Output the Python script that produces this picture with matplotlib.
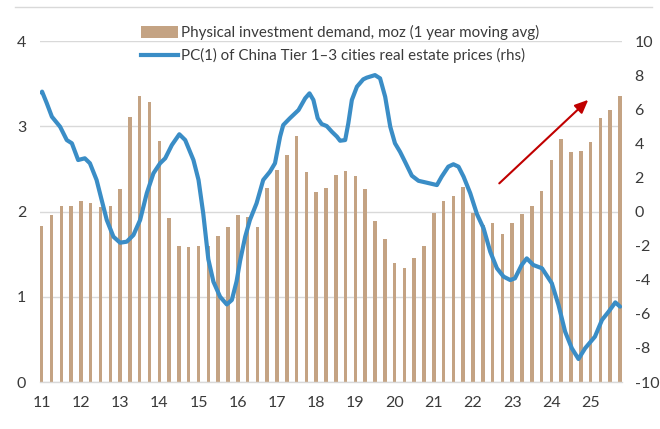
import matplotlib
matplotlib.use("Agg")
import matplotlib.pyplot as plt
from matplotlib.lines import Line2D
from matplotlib.patches import Patch
import numpy as np

plt.rcParams['font.family'] = ['Lato', 'DejaVu Sans']
plt.rcParams['axes.unicode_minus'] = False

# ---- data ----
start_year = 11  # first bar = 2011 Q1, quarterly bars
demand = [1.83, 1.96, 2.06, 2.07, 2.12, 2.10, 2.05, 2.06, 2.26, 3.11,
          3.36, 3.28, 2.83, 1.92, 1.59, 1.58, 1.59, 1.60, 1.71, 1.82,
          1.96, 1.93, 1.82, 2.28, 2.49, 2.66, 2.89, 2.46, 2.23, 2.28,
          2.43, 2.47, 2.42, 2.26, 1.89, 1.68, 1.40, 1.34, 1.46, 1.59,
          1.98, 2.12, 2.18, 2.29, 1.98, 1.84, 1.86, 1.74, 1.87, 1.97,
          2.06, 2.24, 2.60, 2.85, 2.70, 2.71, 2.81, 3.10, 3.19, 3.36]

pc_t = [11.00, 11.01, 11.13, 11.26, 11.47, 11.64, 11.77, 11.93, 12.10, 12.23,
        12.40, 12.53, 12.66, 12.83, 13.00, 13.17, 13.34, 13.51, 13.68, 13.85,
        14.02, 14.15, 14.32, 14.51, 14.66, 14.87, 15.00, 15.12, 15.25, 15.38,
        15.55, 15.72, 15.85, 15.97, 16.06, 16.19, 16.31, 16.48, 16.65, 16.82,
        16.95, 17.08, 17.16, 17.33, 17.55, 17.72, 17.83, 17.93, 18.04, 18.14,
        18.27, 18.40, 18.53, 18.61, 18.74, 18.82, 18.91, 19.04, 19.20, 19.29,
        19.50, 19.63, 19.76, 19.89, 20.01, 20.14, 20.27, 20.44, 20.61, 20.82,
        21.08, 21.20, 21.37, 21.50, 21.63, 21.76, 21.93, 22.10, 22.27, 22.44,
        22.61, 22.78, 22.95, 23.07, 23.24, 23.37, 23.54, 23.76, 24.01, 24.18,
        24.35, 24.52, 24.69, 24.86, 25.11, 25.29, 25.46, 25.63, 25.75]
pc_v = [6.97, 7.03, 6.35, 5.56, 4.97, 4.19, 4.00, 3.02, 3.12, 2.83,
        1.85, 0.67, -0.50, -1.48, -1.83, -1.77, -1.38, -0.50, 1.07, 2.24,
        2.83, 3.12, 3.90, 4.53, 4.19, 3.02, 1.85, -0.11, -2.80, -4.12,
        -5.00, -5.45, -5.19, -4.10, -2.90, -1.48, -0.50, 0.48, 1.85, 2.33,
        2.83, 4.39, 5.07, 5.47, 5.95, 6.64, 6.93, 6.54, 5.47, 5.13,
        5.01, 4.68, 4.39, 4.15, 4.19, 5.17, 6.54, 7.32, 7.75, 7.85,
        8.00, 7.81, 6.73, 4.97, 4.00, 3.50, 2.90, 2.10, 1.80, 1.69,
        1.55, 2.04, 2.63, 2.77, 2.63, 2.04, 1.07, -0.15, -0.99, -2.36,
        -3.33, -3.82, -4.02, -3.92, -3.14, -2.75, -3.14, -3.33, -4.21, -5.48,
        -7.05, -8.02, -8.65, -8.02, -7.34, -6.36, -5.87, -5.33, -5.58]

xticks = list(range(11, 26))
xticklabels = [str(v) for v in xticks]
left_ticks = [0, 1, 2, 3, 4]
right_ticks = [-10, -8, -6, -4, -2, 0, 2, 4, 6, 8, 10]

bar_label = "Physical investment demand, moz (1 year moving avg)"
line_label = "PC(1) of China Tier 1\u20133 cities real estate prices (rhs)"

# arrow (data coords: year, left-axis value)
arrow_start = (22.67, 2.33)
arrow_end = (24.94, 3.31)

# ---- style ----
bar_color = "#C4A383"
line_color = "#3A8DC6"
grid_color = "#D9D9D9"
text_color = "#3A3A3A"

fig = plt.figure(figsize=(6.6, 4.29), dpi=100)
ax = fig.add_axes([40/660, 1-382/429, (622-40)/660, (382-41)/429])
ax2 = ax.twinx()

bar_x = start_year + np.arange(len(demand)) / 4.0
ax.bar(bar_x, demand, width=0.09, color=bar_color, zorder=2, linewidth=0)
ax.set_ylim(0, 4)
ax.set_xlim(10.957, 25.80)
ax.set_yticks(left_ticks)
ax.set_xticks(xticks)
ax.set_xticklabels(xticklabels)
ax.grid(axis='y', color=grid_color, linewidth=1.0, zorder=0)
ax.set_axisbelow(True)
for s in ['top', 'right', 'left']:
    ax.spines[s].set_visible(False)
ax.spines['bottom'].set_color(grid_color)
ax.spines['bottom'].set_linewidth(1.0)
ax.tick_params(axis='both', length=0, labelsize=11.5, colors=text_color)
ax.tick_params(axis='y', pad=10)
ax.tick_params(axis='x', pad=10)

ax2.plot(pc_t, pc_v, color=line_color, linewidth=3.0, solid_capstyle='round',
         solid_joinstyle='round', zorder=3)
ax2.set_ylim(-10, 10)
ax2.set_yticks(right_ticks)
for s in ax2.spines.values():
    s.set_visible(False)
ax2.tick_params(axis='y', length=0, labelsize=11.5, colors=text_color, pad=9)

ax.annotate("", xy=arrow_end, xytext=arrow_start,
            arrowprops=dict(arrowstyle="-|>,head_length=0.8,head_width=0.35",
                            color="#C00000", linewidth=1.5, shrinkA=0, shrinkB=0),
            zorder=5)

handles = [Patch(facecolor=bar_color, edgecolor='none'),
           Line2D([0], [0], color=line_color, linewidth=3.0)]
leg = fig.legend(handles, [bar_label, line_label], loc='upper left',
                 bbox_to_anchor=(141/660, 1-25/429), frameon=False,
                 fontsize=10.9, handlelength=2.45, handleheight=0.8,
                 handletextpad=0.2, borderpad=0, borderaxespad=0,
                 labelspacing=0.55)
for t in leg.get_texts():
    t.set_color(text_color)

fig.add_artist(Line2D([15/660, 652/660], [1-7/429, 1-7/429],
                      color=grid_color, linewidth=1.0, transform=fig.transFigure))

fig.savefig("out.png", dpi=100)
